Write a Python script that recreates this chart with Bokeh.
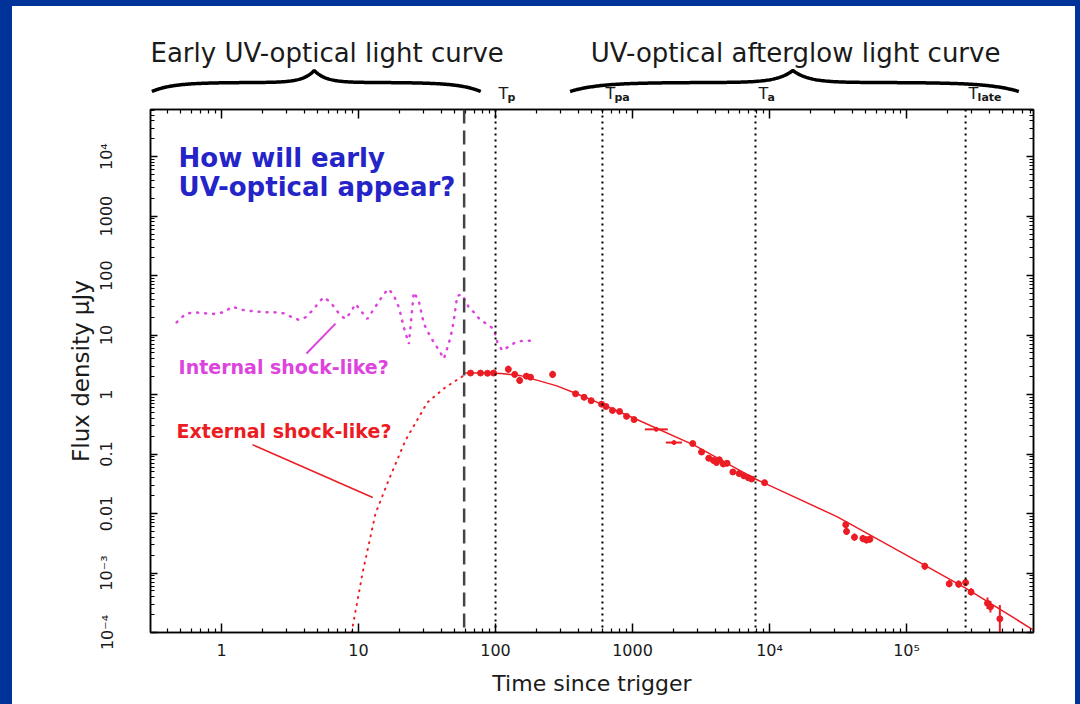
import numpy as np
from bokeh.plotting import figure
from bokeh.models import Range1d, LogAxis, FixedTicker, CustomJSTickFormatter, Span
from bokeh.layouts import column
from bokeh.embed import file_html
from bokeh.resources import INLINE
from bokeh.core.properties import value

# ---------------- data ----------------
# observed UV-optical afterglow points: time (s), flux (uJy), fractional error
obs_t = [65.7, 77.7, 87.4, 96.7, 124, 138, 150, 168, 180, 261, 384, 443, 499, 594, 640,
         714, 804, 904, 1026, 2750, 3190, 3600, 3900, 4100, 4300, 4600, 4900,
         5400, 6000, 6500, 7000, 7400, 9200, 36000, 36500, 41700, 48000, 51000,
         54000, 136000, 205000, 240000, 270000, 296000, 390000, 410000, 480000]
obs_f = [2.3, 2.3, 2.28, 2.3, 2.66, 2.18, 1.73, 2.04, 1.96, 2.18, 1.03, 0.90, 0.79, 0.69, 0.63,
         0.54, 0.52, 0.43, 0.38, 0.15, 0.108, 0.085, 0.078, 0.072, 0.080, 0.068, 0.070,
         0.050, 0.047, 0.043, 0.040, 0.038, 0.033, 0.0065, 0.0050, 0.0040, 0.0038, 0.0036,
         0.0037, 0.0013, 0.00066, 0.00065, 0.00069, 0.00048, 0.00031, 0.00027, 0.00017]
obs_err = [0.05, 0.05, 0.05, 0.05, 0.15, 0.12, 0.15, 0.1, 0.1, 0.15, 0.08, 0.08, 0.08, 0.08, 0.08,
           0.08, 0.08, 0.1, 0.1, 0.1, 0.1, 0.12, 0.12, 0.12, 0.12, 0.12, 0.12,
           0.12, 0.12, 0.12, 0.12, 0.12, 0.12, 0.15, 0.15, 0.15, 0.15, 0.15,
           0.15, 0.15, 0.15, 0.15, 0.15, 0.15, 0.25, 0.25, 0.7]
# points with horizontal (time bin) error bars
bin_t0 = [1230, 1750]
bin_t1 = [1810, 2300]
bin_f = [0.26, 0.156]

# fitted afterglow model (solid red)
fit_t = [59, 80, 110, 150, 200, 280, 384, 594, 1026, 2840, 7900, 31300, 132000, 272000, 845000]
fit_f = [2.3, 2.3, 2.25, 2.1, 1.75, 1.4, 1.05, 0.69, 0.40, 0.14, 0.038, 0.0088, 0.0014, 0.00055, 0.00011]

# external shock-like early rise (red dotted)
ext_t = [8.9, 10.7, 13.3, 16.3, 22.0, 31.8, 43.2, 57.0, 61.4]
ext_f = [1e-4, 1e-3, 0.01, 0.033, 0.17, 0.74, 1.33, 2.0, 2.27]

# internal shock-like early flaring (magenta dotted)
int_t = [0.47, 0.546, 0.628, 0.764, 0.879, 1.04, 1.2, 1.42, 1.72, 2.04, 2.41, 2.85, 3.28, 3.67,
         4.1, 4.72, 5.13, 5.58, 6.25, 6.79, 7.39, 8.04, 8.75, 9.51, 10.6, 11.6, 13.7, 15.3,
         16.6, 18.1, 19.7, 21.4, 23.3, 25.3, 27.5, 30.0, 33.6, 37.5, 42.0, 47.0, 49.6, 52.5,
         57.0, 63.8, 71.5, 77.8, 87.0, 97.3, 103, 112, 122, 140, 161, 180]
int_f = [16.4, 22.7, 24.2, 23.2, 22.7, 24.2, 30.1, 26.5, 25.1, 24.2, 24.2, 23.2, 19.9, 18.0,
         19.9, 27.5, 35.6, 43.2, 35.6, 27.5, 21.3, 18.7, 24.2, 33.4, 24.2, 18.7, 33.4, 49.2,
         59.7, 46.1, 29.3, 13.5, 7.1, 52.5, 38.0, 15.4, 9.2, 6.2, 4.0, 9.2, 17.5, 46.0,
         48.0, 29.3, 22.7, 17.5, 15.4, 12.5, 7.6, 5.5, 6.2, 7.6, 8.1, 8.0]

# characteristic times
t_dash = 59
t_marks = [100, 603, 7900, 270000]
t_mark_subs = ["p", "pa", "a", "late"]

# axis ticks
x_ticks = [1, 10, 100, 1000, 1e4, 1e5]
x_tick_labels = ["1", "10", "100", "1000", "10⁴", "10⁵"]
y_ticks = [1e-4, 1e-3, 1e-2, 0.1, 1, 10, 100, 1000, 1e4]
y_tick_labels = ["10⁻⁴", "10⁻³", "0.01", "0.1", "1", "10", "100", "1000", "10⁴"]

# ---------------- styles / geometry ----------------
FONT = "DejaVu Sans"
RED = "#ec1c24"
MAG = "#dd44dd"
BLUE = "#2424c8"
BG_BLUE = "#003399"

FIG_W, BORDER_L, BORDER_R = 1063, 138, 42
x_range = Range1d(0.303, 8.45e5)
y_range = Range1d(1e-4, 6.2e4)

x_minor = [k * 10.0 ** d for d in range(-1, 6) for k in range(2, 10)]
y_minor = [k * 10.0 ** d for d in range(-4, 5) for k in range(2, 10)]

# ---------------- header figure ----------------
TOP_H = 99
top = figure(width=FIG_W, height=TOP_H, x_axis_type="log", x_range=x_range,
             y_range=Range1d(0, TOP_H),
             x_axis_location=None, y_axis_location=None, toolbar_location=None,
             output_backend="svg", min_border_left=BORDER_L, min_border_right=BORDER_R,
             min_border_top=0, min_border_bottom=0, outline_line_color=None,
             background_fill_color="white", border_fill_color="white")
top.grid.grid_line_color = None


def brace(t0, ttip, t1, y_end, y_mid, y_tip, n=160):
    u = np.linspace(0.0, 1.0, n)
    def half(v):
        return (y_end + (y_mid - y_end) * (1 - np.exp(-v / 0.13))
                + (y_tip - y_mid) * np.exp(-(1 - v) / 0.07))
    l0, lt, l1 = np.log10(t0), np.log10(ttip), np.log10(t1)
    xs = np.concatenate([l0 + (lt - l0) * u, lt + (l1 - lt) * u])
    ys = np.concatenate([half(u), half(1 - u)])
    return 10 ** xs, ys


bx, by = brace(0.31, 4.75, 78, 14, 23, 35)
top.line(bx, by, line_color="black", line_width=3.5)
bx, by = brace(350, 14800, 6.6e5, 14, 23, 35)
top.line(bx, by, line_color="black", line_width=3.5)

top.text(x=[5.9, 15500], y=[53, 53],
         text=["Early UV-optical light curve", "UV-optical afterglow light curve"],
         text_font=value(FONT), text_font_size="26px", text_color="#1a1a1a",
         text_align="center", text_baseline="middle")

top.text(x=t_marks, y=[12] * 4, text=["T"] * 4, x_offset=3,
         text_font=value(FONT), text_font_size="16px", text_color="#1a1a1a",
         text_baseline="alphabetic")
top.text(x=t_marks, y=[8] * 4, text=t_mark_subs, x_offset=12,
         text_font=value(FONT), text_font_size="11px", text_font_style="bold",
         text_color="#1a1a1a", text_baseline="alphabetic")

# ---------------- main figure ----------------
p = figure(width=FIG_W, height=704 - 6 - TOP_H, x_axis_type="log", y_axis_type="log",
           x_range=x_range, y_range=y_range, toolbar_location=None, output_backend="svg",
           min_border_left=BORDER_L, min_border_right=BORDER_R, min_border_top=0,
           min_border_bottom=72,
           background_fill_color="white", border_fill_color="white")
p.grid.grid_line_color = None
p.outline_line_color = "black"
p.outline_line_width = 1.5

xt = FixedTicker(ticks=x_ticks, minor_ticks=x_minor)
yt = FixedTicker(ticks=y_ticks, minor_ticks=y_minor)
xfmt = CustomJSTickFormatter(args=dict(labs=x_tick_labels, off=0),
                             code="return labs[Math.round(Math.log10(tick)) + off];")
yfmt = CustomJSTickFormatter(args=dict(labs=y_tick_labels, off=4),
                             code="return labs[Math.round(Math.log10(tick)) + off];")
blank = CustomJSTickFormatter(code="return ' ';")

for ax in p.xaxis:
    ax.ticker = xt
    ax.formatter = xfmt
for ax in p.yaxis:
    ax.ticker = yt
    ax.formatter = yfmt

p.xaxis.axis_label = "Time since trigger"
p.yaxis.axis_label = "Flux density μJy"
for ax in list(p.xaxis) + list(p.yaxis):
    ax.axis_label_text_font = FONT
    ax.axis_label_text_font_style = "normal"
    ax.axis_label_text_color = "#1a1a1a"
    ax.major_label_text_font = FONT
    ax.major_label_text_color = "#1a1a1a"
    ax.axis_line_width = 1.5
    ax.major_tick_out = 0
    ax.minor_tick_out = 0
    ax.major_tick_line_width = 1.5
    ax.minor_tick_line_width = 1.2

p.xaxis.axis_label_text_font_size = "22px"
p.xaxis.major_label_text_font_size = "16px"
p.xaxis.major_tick_in = 9
p.xaxis.minor_tick_in = 4
p.xaxis.major_label_standoff = 8
p.xaxis.axis_label_standoff = 8

p.yaxis.axis_label_text_font_size = "23px"
p.yaxis.major_label_text_font_size = "16px"
p.yaxis.major_label_orientation = "vertical"
p.yaxis.major_tick_in = 7
p.yaxis.minor_tick_in = 4
p.yaxis.major_label_standoff = 34
p.yaxis.axis_label_standoff = 1

# mirrored tick axes (no labels)
ax_top = LogAxis(ticker=xt, formatter=blank, major_label_text_font_size="1px",
                 major_label_standoff=0,
                 major_tick_in=9, major_tick_out=0, minor_tick_in=4, minor_tick_out=0,
                 axis_line_width=1.5, major_tick_line_width=1.5, minor_tick_line_width=1.2)
ax_right = LogAxis(ticker=yt, formatter=blank, major_label_text_font_size="1px",
                   major_label_standoff=0,
                   major_tick_in=7, major_tick_out=0, minor_tick_in=4, minor_tick_out=0,
                   axis_line_width=1.5, major_tick_line_width=1.5, minor_tick_line_width=1.2)
p.add_layout(ax_top, "above")
p.add_layout(ax_right, "right")

# vertical reference lines
p.add_layout(Span(location=t_dash, dimension="height", line_color="#444444",
                  line_width=2.5, line_dash="14 7"))
for tm in t_marks:
    p.add_layout(Span(location=tm, dimension="height", line_color="black",
                      line_width=2, line_dash="2 4"))

# early curves
p.line(int_t, int_f, line_color=MAG, line_width=2.5, line_dash="1 7", line_cap="round")
p.line(ext_t, ext_f, line_color=RED, line_width=2, line_dash="1 6", line_cap="round")

# afterglow model and data
p.line(fit_t, fit_f, line_color=RED, line_width=1.5)
lo = [f / (1 + e) for f, e in zip(obs_f, obs_err)]
hi = [f * (1 + e) for f, e in zip(obs_f, obs_err)]
p.segment(x0=obs_t, y0=lo, x1=obs_t, y1=hi, line_color=RED, line_width=2)
p.segment(x0=bin_t0, y0=bin_f, x1=bin_t1, y1=bin_f, line_color=RED, line_width=2)
p.scatter(obs_t, obs_f, size=6, marker="circle", fill_color=RED, line_color=RED)
p.scatter([(a * b) ** 0.5 for a, b in zip(bin_t0, bin_t1)], bin_f, size=4,
          marker="circle", fill_color=RED, line_color=RED)

# annotations
p.text(x=[0.486, 0.486], y=[9600, 3130], text=["How will early", "UV-optical appear?"],
       text_font=value(FONT), text_font_size="26px", text_font_style="bold",
       text_color=BLUE, text_baseline="middle")
p.text(x=[0.486], y=[2.96], text=["Internal shock-like?"], text_font=value(FONT),
       text_font_size="19px", text_font_style="bold", text_color=MAG, text_baseline="middle")
p.text(x=[0.47], y=[0.248], text=["External shock-like?"], text_font=value(FONT),
       text_font_size="19px", text_font_style="bold", text_color=RED, text_baseline="middle")
p.line([4.17, 6.79], [4.89, 15.6], line_color=MAG, line_width=2)
p.line([1.68, 12.7], [0.144, 0.0186], line_color=RED, line_width=1.5)

inner = column(top, p, spacing=0, margin=(6, 5, 0, 12), styles={"background-color": "white"})
layout = column(inner, spacing=0, styles={"background-color": BG_BLUE})
open("out.html", "w").write(file_html(layout, INLINE))
